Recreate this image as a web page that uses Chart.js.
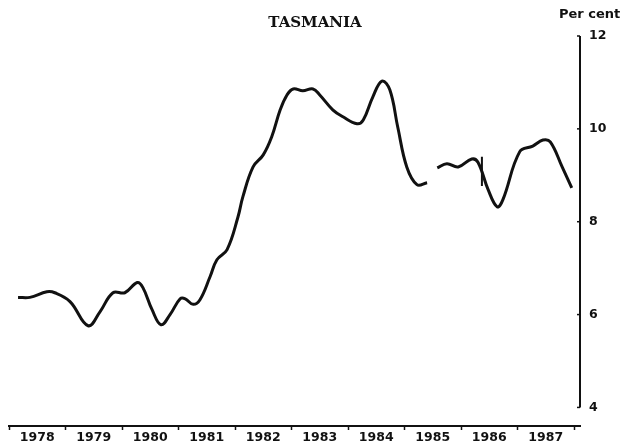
<!DOCTYPE html>
<html><head><meta charset="utf-8">
<script src="https://cdn.jsdelivr.net/npm/chart.js@4"></script>
<style>html,body{margin:0;padding:0;background:#fff}#wrap{width:621px;height:448px}</style>
</head><body><div id="wrap"><canvas id="c" width="621" height="448"></canvas></div>
<script>
const chartTitle = 'TASMANIA';
const unitLabel = 'Per cent';
const yearLabels = ['1978','1979','1980','1981','1982','1983','1984','1985','1986','1987'];
const yTicks = [4, 6, 8, 10, 12];
const times = [1978.16,1978.37,1978.67,1978.81,1979.08,1979.40,1979.61,1979.84,1980.05,1980.27,1980.37,1980.53,1980.69,1980.85,1981.03,1981.12,1981.26,1981.38,1981.56,1981.68,1981.86,1982.05,1982.14,1982.32,1982.50,1982.65,1982.80,1982.92,1983.03,1983.20,1983.38,1983.50,1983.73,1983.91,1984.16,1984.27,1984.44,1984.60,1984.74,1984.88,1985.04,1985.22,1985.40,1985.49,1985.58,1985.75,1985.95,1986.19,1986.30,1986.48,1986.64,1986.74,1987.04,1987.27,1987.45,1987.58,1987.79,1987.96];
const rates = [6.37,6.37,6.49,6.47,6.28,5.76,6.06,6.47,6.47,6.69,6.58,6.11,5.78,6.00,6.34,6.34,6.22,6.32,6.82,7.18,7.40,8.09,8.54,9.18,9.44,9.83,10.41,10.73,10.86,10.82,10.86,10.73,10.41,10.26,10.11,10.19,10.69,11.03,10.84,10.04,9.18,8.80,8.84,null,9.16,9.25,9.18,9.35,9.28,8.69,8.32,8.47,9.51,9.63,9.76,9.72,9.18,8.73];
const breakTimes = [1986.37, 1986.37];
const breakRates = [9.40, 8.77];

const ink = '#111';
const axisPlugin = {
  id: 'axisLine',
  afterDraw(chart) {
    const {ctx, scales: {y}, chartArea} = chart;
    const x = chartArea.right;
    ctx.save();
    ctx.strokeStyle = ink; ctx.lineWidth = 2;
    ctx.beginPath();
    ctx.moveTo(x, y.getPixelForValue(yTicks[yTicks.length - 1]));
    ctx.lineTo(x, y.getPixelForValue(yTicks[0]));
    ctx.stroke();
    ctx.lineWidth = 1.5;
    yTicks.forEach(v => {
      const py = y.getPixelForValue(v);
      ctx.beginPath(); ctx.moveTo(x - 3, py); ctx.lineTo(x, py); ctx.stroke();
    });
    ctx.fillStyle = ink;
    ctx.font = 'bold 13px "DejaVu Sans"';
    ctx.textBaseline = 'middle'; ctx.textAlign = 'left';
    ctx.fillText(unitLabel, x - 21, 15);
    ctx.restore();
  }
};

new Chart(document.getElementById('c'), {
  type: 'line',
  data: {
    datasets: [
      { data: times.map((t, i) => ({x: t, y: rates[i]})), borderColor: ink, borderWidth: 3, pointRadius: 0, tension: 0.4, spanGaps: false, fill: false },
      { data: breakTimes.map((t, i) => ({x: t, y: breakRates[i]})), borderColor: ink, borderWidth: 2, pointRadius: 0, tension: 0, fill: false }
    ]
  },
  options: {
    responsive: false, devicePixelRatio: 1, animation: false,
    layout: { padding: { left: 9, right: 0, top: 0, bottom: 0 } },
    plugins: {
      legend: { display: false }, tooltip: { enabled: false },
      title: { display: true, text: chartTitle, color: ink, font: { family: '"DejaVu Serif"', weight: 'bold', size: 15 }, padding: { top: 14, bottom: 4 } }
    },
    scales: {
      x: {
        type: 'linear', min: 1978, max: 1988.106, position: 'bottom',
        afterBuildTicks: s => { const t = []; for (let i = 0; i <= yearLabels.length; i++) { t.push({value: 1978 + i}); if (i < yearLabels.length) t.push({value: 1978.5 + i}); } s.ticks = t; },
        afterFit: s => { s.height = 22; },
        grid: { drawOnChartArea: false, tickLength: 4, tickWidth: 1.5, tickColor: c => (c.tick && Number.isInteger(c.tick.value)) ? ink : 'rgba(0,0,0,0)' },
        border: { display: true, color: ink, width: 2 },
        ticks: { autoSkip: false, maxRotation: 0, padding: 0, color: ink, font: { family: '"DejaVu Sans"', weight: 'bold', size: 12.5 },
          callback: v => Number.isInteger(v) ? '' : yearLabels[Math.floor(v) - 1978] }
      },
      y: {
        position: 'right', min: 3.6, max: 12,
        afterBuildTicks: s => { s.ticks = yTicks.map(v => ({value: v})); },
        afterFit: s => { s.width = 41; },
        grid: { display: false },
        border: { display: false },
        ticks: { padding: 1, color: ink, font: { family: '"DejaVu Sans"', weight: 'bold', size: 12.5 } }
      }
    }
  },
  plugins: [axisPlugin]
});
</script>
</body></html>
